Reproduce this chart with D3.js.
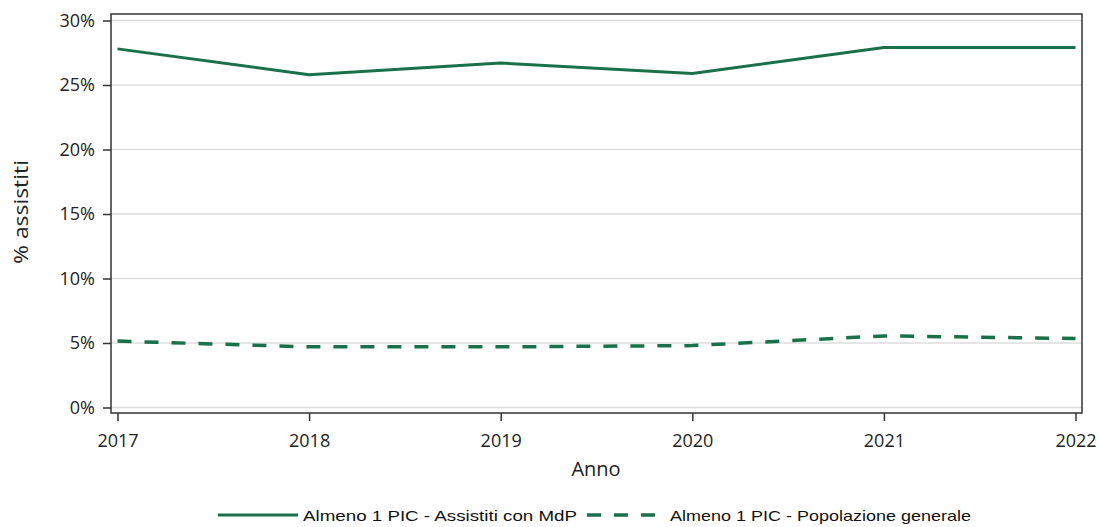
<!DOCTYPE html>
<html><head><meta charset="utf-8">
<script src="https://cdn.jsdelivr.net/npm/d3@7"></script>
<style>body{margin:0;background:#fff}svg{display:block}</style>
</head><body>
<svg id="c" width="1099" height="527"></svg>
<script>
const years = [2017, 2018, 2019, 2020, 2021, 2022];
const mdp = [27.8, 25.8, 26.7, 25.9, 27.9, 27.9];
const popgen = [5.15, 4.7, 4.7, 4.8, 5.55, 5.35];
const yTicks = [0, 5, 10, 15, 20, 25, 30];
const seriesNames = ["Almeno 1 PIC - Assistiti con MdP", "Almeno 1 PIC - Popolazione generale"];
const color = "#19704a";

const svg = d3.select("#c");
const L = 111, R = 1082, T = 14, B = 413;
const x = d3.scaleLinear().domain([2017, 2022]).range([117.5, 1075.5]);
const y = d3.scaleLinear().domain([0, 30]).range([407.5, 20.5]);

// gridlines
svg.append("g").selectAll("line").data(yTicks).join("line")
  .attr("x1", L).attr("x2", R).attr("y1", d => y(d)).attr("y2", d => y(d))
  .attr("stroke", "#dcdcdc").attr("stroke-width", 1.5);

// frame
svg.append("rect").attr("x", L).attr("y", T).attr("width", R - L).attr("height", B - T)
  .attr("fill", "none").attr("stroke", "#333").attr("stroke-width", 1.5);

// y axis
const ya = svg.append("g").attr("transform", `translate(${L},0)`)
  .call(d3.axisLeft(y).tickValues(yTicks).tickFormat(d => d + "%").tickSize(8).tickPadding(8));
ya.select(".domain").remove();
ya.selectAll("line").attr("stroke", "#333").attr("stroke-width", 1.5);
ya.selectAll("text").attr("font-family", "Open Sans").attr("font-size", 18).attr("fill", "#222");

// x axis
const xa = svg.append("g").attr("transform", `translate(0,${B})`)
  .call(d3.axisBottom(x).tickValues(years).tickFormat(d3.format("d")).tickSize(8).tickPadding(13));
xa.select(".domain").remove();
xa.selectAll("line").attr("stroke", "#333").attr("stroke-width", 1.5);
xa.selectAll("text").attr("font-family", "Open Sans").attr("font-size", 18).attr("fill", "#222");

// axis titles
svg.append("text").attr("x", 596).attr("y", 476).attr("text-anchor", "middle")
  .attr("font-family", "Open Sans").attr("font-size", 20).attr("fill", "#222").text("Anno");
svg.append("text").attr("transform", "translate(28,212) rotate(-90)").attr("text-anchor", "middle")
  .attr("font-family", "Open Sans").attr("font-size", 20).attr("fill", "#222")
  .attr("textLength", 104).attr("lengthAdjust", "spacingAndGlyphs").text("% assistiti");

// lines
const line = d3.line().x((d, i) => x(years[i])).y(d => y(d));
svg.append("path").datum(mdp).attr("d", line).attr("fill", "none")
  .attr("stroke", color).attr("stroke-width", 3);
svg.append("path").datum(popgen).attr("d", line).attr("fill", "none")
  .attr("stroke", color).attr("stroke-width", 3.5).attr("stroke-dasharray", "14,13");

// legend
const lg = svg.append("g");
lg.append("line").attr("x1", 218).attr("x2", 298).attr("y1", 515).attr("y2", 515)
  .attr("stroke", color).attr("stroke-width", 3);
lg.append("text").attr("x", 303).attr("y", 520.5).attr("font-family", "Liberation Sans").attr("font-size", 15)
  .attr("fill", "#111").attr("textLength", 274).attr("lengthAdjust", "spacingAndGlyphs").text(seriesNames[0]);
lg.append("line").attr("x1", 587).attr("x2", 657).attr("y1", 515).attr("y2", 515)
  .attr("stroke", color).attr("stroke-width", 3.5).attr("stroke-dasharray", "14,13");
lg.append("text").attr("x", 670).attr("y", 520.5).attr("font-family", "Liberation Sans").attr("font-size", 15)
  .attr("fill", "#111").attr("textLength", 301).attr("lengthAdjust", "spacingAndGlyphs").text(seriesNames[1]);
</script>
</body></html>
